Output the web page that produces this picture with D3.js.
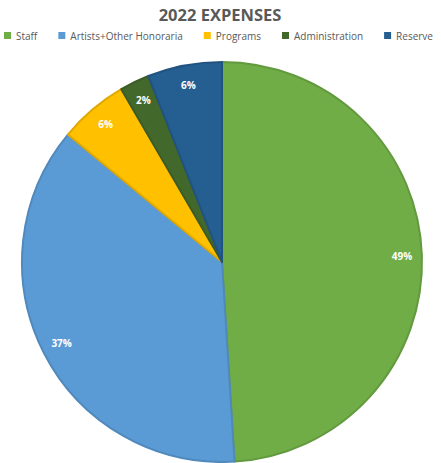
<!DOCTYPE html>
<html>
<head>
<meta charset="utf-8">
<script src="https://cdn.jsdelivr.net/npm/d3@7"></script>
<style>
  body { margin: 0; background: #fff; }
  svg { display: block; font-family: "Open Sans", sans-serif; }
</style>
</head>
<body>
<div id="chart"></div>
<script>
const categories = ["Staff", "Artists+Other Honoraria", "Programs", "Administration", "Reserve"];
const shares = [49, 37, 5.6, 2.4, 6]; // percent of total
const colors = ["#70ad47", "#5b9bd5", "#ffc000", "#43682b", "#255e91"];

const width = 441, height = 463;
const cx = 222, cy = 262, radius = 200;

const svg = d3.select("#chart").append("svg")
  .attr("width", width)
  .attr("height", height);

svg.append("text")
  .attr("x", 220)
  .attr("y", 21)
  .attr("text-anchor", "middle")
  .attr("font-size", 16.5)
  .attr("font-weight", "bold")
  .attr("fill", "#595959")
  .text("2022 EXPENSES");

// legend, laid out left to right
const legend = svg.append("g").attr("transform", "translate(4,36)");
let lx = 0;
categories.forEach((c, i) => {
  const g = legend.append("g").attr("transform", `translate(${lx},0)`);
  g.append("rect")
    .attr("x", 0).attr("y", -4)
    .attr("width", 7).attr("height", 7)
    .attr("fill", colors[i]);
  const t = g.append("text")
    .attr("x", 12).attr("y", 3.5)
    .attr("font-size", 10)
    .attr("fill", "#595959")
    .text(c);
  lx += 12 + t.node().getComputedTextLength() + 21;
});

const pie = d3.pie().sort(null).value(d => d);
const arcs = pie(shares);
const arc = d3.arc().innerRadius(0).outerRadius(radius);
const labelArc = d3.arc().innerRadius(180).outerRadius(180);
const pct = d3.format(".0f");

const g = svg.append("g").attr("transform", `translate(${cx},${cy})`);

g.selectAll("path")
  .data(arcs)
  .join("path")
  .attr("d", arc)
  .attr("fill", (d, i) => colors[i])
  .attr("stroke", (d, i) => d3.color(colors[i]).darker(0.35))
  .attr("stroke-width", 2)
  .attr("stroke-linejoin", "round");

g.selectAll("text.lbl")
  .data(arcs)
  .join("text")
  .attr("class", "lbl")
  .attr("transform", d => `translate(${labelArc.centroid(d)})`)
  .attr("text-anchor", "middle")
  .attr("dy", "0.35em")
  .attr("font-size", 10)
  .attr("font-weight", "bold")
  .attr("fill", "#fff")
  .text(d => pct(d.data) + "%");
</script>
</body>
</html>
